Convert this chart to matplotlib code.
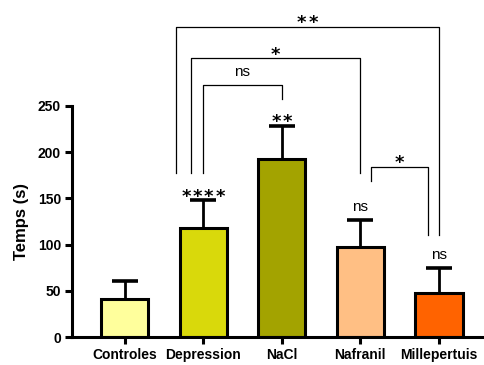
import matplotlib.pyplot as plt
from matplotlib.transforms import offset_copy

groups = ["Controles", "Depression", "NaCl", "Nafranil", "Millepertuis"]
means = [41, 118, 192, 98, 48]
sem = [20, 30, 36, 28.5, 27]
colors = ["#FFFF9C", "#D9D90B", "#A3A300", "#FFBF84", "#FF6300"]

# significance vs control, written over each bar
bar_labels = ["", "****", "**", "ns", "ns"]

# brackets: x left, x right, top, left leg bottom, right leg bottom, label
brackets = [
    (0.655, 4.0, 335, 177, 110, "**"),
    (0.846, 3.0, 301, 177, 177, "*"),
    (1.0, 2.0, 272, 177, 257, "ns"),
    (3.13, 3.86, 184, 169, 110, "*"),
]

plt.rcParams["font.family"] = ["Liberation Sans", "DejaVu Sans"]

fig = plt.figure(figsize=(4.85, 3.65), dpi=100)
ax = fig.add_axes([72 / 485, 27.7 / 365, 413 / 485, 333.5 / 365])

x = range(len(groups))
ax.bar(x, means, width=0.6, color=colors, edgecolor="black", linewidth=2.2, zorder=2)
eb = ax.errorbar(x, means, yerr=[[0] * len(sem), sem], fmt="none", ecolor="black",
                 elinewidth=2, capsize=9.4, capthick=2.6, zorder=1)
eb[1][0].set_visible(False)  # no cap at the bar top


def put_label(xc, y, label):
    if label.startswith("*"):
        # prism style: stars spread out a bit
        n = len(label)
        for k in range(n):
            tr = offset_copy(ax.transData, fig=fig, x=(k - (n - 1) / 2) * 8.1,
                             y=0, units="points")
            ax.text(xc, y - 1.5, "*", ha="center", va="baseline", fontsize=13,
                    fontweight="bold", family="DejaVu Sans", transform=tr)
    else:
        ax.text(xc, y + 10, label, ha="center", va="baseline", fontsize=11)


for i, lab in enumerate(bar_labels):
    if lab:
        put_label(i, means[i] + sem[i], lab)

for x0, x1, top, b0, b1, lab in brackets:
    ax.plot([x0, x0, x1, x1], [b0, top, top, b1], color="black", lw=0.9)
    put_label((x0 + x1) / 2, top, lab)

ax.set_xlim(-0.668, 4.586)
ax.set_ylim(0, 360)
ax.set_yticks(range(0, 251, 50))
ax.set_xticks(list(x))
ax.set_xticklabels(groups, fontweight="bold", fontsize=10)
for t in ax.get_yticklabels():
    t.set_fontweight("bold")
    t.set_fontsize(10)

ax.spines["top"].set_visible(False)
ax.spines["right"].set_visible(False)
ax.spines["left"].set_bounds(0, 250)
ax.spines["left"].set_linewidth(2.2)
ax.spines["bottom"].set_linewidth(2.2)
ax.tick_params(width=2.2, length=5, pad=3)

ax.set_ylabel("Temps (s)", fontweight="bold", fontsize=12)
ax.yaxis.set_label_coords(-0.104, 125 / 360)

fig.savefig("out.png", dpi=100)
